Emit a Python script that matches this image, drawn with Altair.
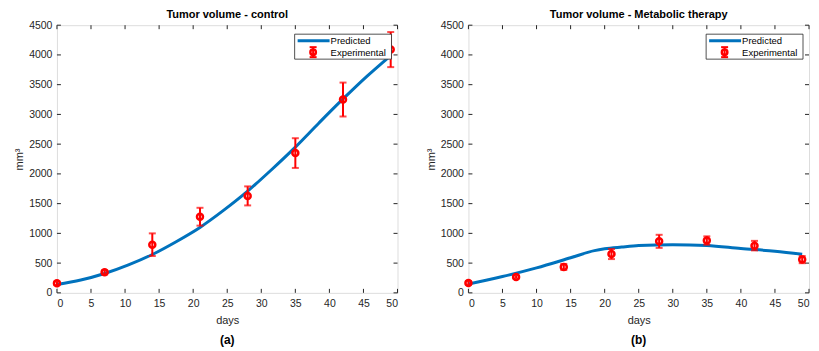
import altair as alt
import pandas as pd

# ---- data ----
days_exp = [0, 7, 14, 21, 28, 35, 42, 49]
control_mean = [160, 345, 810, 1280, 1630, 2350, 3250, 4090]
control_err = [30, 35, 190, 150, 160, 250, 285, 295]
therapy_mean = [167, 268, 436, 653, 866, 880, 794, 559]
therapy_err = [30, 25, 50, 85, 110, 70, 80, 60]

control_pred_days = [0, 3.5, 7, 10.5, 14, 17.5, 21, 24.5, 28, 31.5, 35, 38.5, 42, 45.5, 49]
control_pred = [140, 215, 325, 470, 645, 860, 1100, 1390, 1710, 2070, 2450, 2860, 3260, 3640, 3990]

therapy_pred_days = [0, 5, 10, 15, 18.5, 20, 22.5, 25, 30, 35, 40, 45, 49]
therapy_pred = [150, 275, 420, 590, 710, 740, 770, 795, 810, 795, 745, 700, 650]

x_ticks = [0, 5, 10, 15, 20, 25, 30, 35, 40, 45, 50]
y_ticks = [0, 500, 1000, 1500, 2000, 2500, 3000, 3500, 4000, 4500]

W, H = 341, 268
FONT = "Liberation Sans"
AX = "#262626"
BLUE = "#0072BD"
RED = "#FF0000"


def panel(title, caption, pdays, pvals, means, errs):
    exp = pd.DataFrame({
        "day": days_exp,
        "mean": means,
        "lo": [m - e for m, e in zip(means, errs)],
        "hi": [m + e for m, e in zip(means, errs)],
    })
    pred = pd.DataFrame({"day": pdays, "vol": pvals})
    xt = pd.DataFrame({"v": x_ticks})
    yt = pd.DataFrame({"v": y_ticks})
    one = pd.DataFrame({"a": [0]})

    xs = alt.Scale(domain=[0, 50], nice=False)
    ys = alt.Scale(domain=[0, 4500], nice=False)

    common = dict(grid=False, domain=False, tickSize=0, labelOverlap=False, format="d",
                  labelFontSize=10.5, titleFontSize=11, titleFontWeight="normal",
                  labelColor=AX, titleColor=AX, labelFont=FONT, titleFont=FONT)
    xaxis = alt.Axis(values=x_ticks, title="days", labelPadding=6, titlePadding=5, **common)
    yaxis = alt.Axis(values=y_ticks, title="mm³", labelPadding=5, titlePadding=4, **common)

    def X(f):
        return alt.X(f, scale=xs, axis=xaxis)

    def Y(f):
        return alt.Y(f, scale=ys, axis=yaxis)

    line = alt.Chart(pred).mark_line(color=BLUE, strokeWidth=3, interpolate="monotone").encode(
        x=X("day:Q"), y=Y("vol:Q"))
    bars = alt.Chart(exp).mark_rule(color=RED, strokeWidth=2).encode(
        x=X("day:Q"), y=Y("lo:Q"), y2="hi:Q")
    cap_lo = alt.Chart(exp).mark_tick(color=RED, orient="horizontal", size=7, thickness=2).encode(
        x=X("day:Q"), y=Y("lo:Q"))
    cap_hi = alt.Chart(exp).mark_tick(color=RED, orient="horizontal", size=7, thickness=2).encode(
        x=X("day:Q"), y=Y("hi:Q"))
    pts = alt.Chart(exp).mark_point(color=RED, filled=False, strokeWidth=2.5, size=36, opacity=1).encode(
        x=X("day:Q"), y=Y("mean:Q"))

    # inward ticks on all four sides
    tb = alt.Chart(xt).mark_rule(color=AX, strokeWidth=1).encode(
        x=X("v:Q"), y=alt.value(H - 4), y2=alt.value(H))
    tt = alt.Chart(xt).mark_rule(color=AX, strokeWidth=1).encode(
        x=X("v:Q"), y=alt.value(0), y2=alt.value(4))
    tl = alt.Chart(yt).mark_rule(color=AX, strokeWidth=1).encode(
        y=Y("v:Q"), x=alt.value(0), x2=alt.value(4))
    tr = alt.Chart(yt).mark_rule(color=AX, strokeWidth=1).encode(
        y=Y("v:Q"), x=alt.value(W - 4), x2=alt.value(W))

    # legend
    lbox = alt.Chart(one).mark_rect(fill="white", stroke=AX, strokeWidth=0.8).encode(
        x=alt.value(238), x2=alt.value(335), y=alt.value(9), y2=alt.value(34))
    lline = alt.Chart(one).mark_rule(color=BLUE, strokeWidth=3).encode(
        x=alt.value(241), x2=alt.value(273), y=alt.value(15.5))
    lbar = alt.Chart(one).mark_rule(color=RED, strokeWidth=2).encode(
        x=alt.value(256.5), y=alt.value(22), y2=alt.value(32))
    lcap1 = alt.Chart(one).mark_rule(color=RED, strokeWidth=2).encode(
        x=alt.value(253), x2=alt.value(260), y=alt.value(22))
    lcap2 = alt.Chart(one).mark_rule(color=RED, strokeWidth=2).encode(
        x=alt.value(253), x2=alt.value(260), y=alt.value(32))
    lpt = alt.Chart(one).mark_point(color=RED, filled=False, strokeWidth=2.5, size=30, opacity=1).encode(
        x=alt.value(256.5), y=alt.value(27))
    ltxt1 = alt.Chart(one).mark_text(align="left", baseline="middle", fontSize=9.5, font=FONT, color="black").encode(
        x=alt.value(274), y=alt.value(16), text=alt.value("Predicted"))
    ltxt2 = alt.Chart(one).mark_text(align="left", baseline="middle", fontSize=9.5, font=FONT, color="black").encode(
        x=alt.value(274), y=alt.value(27.5), text=alt.value("Experimental"))

    cap = alt.Chart(one).mark_text(align="center", baseline="middle", fontSize=12, fontWeight="bold",
                                   font=FONT, color="black").encode(
        x=alt.value(W / 2), y=alt.value(H + 47), text=alt.value(caption))

    return alt.layer(
        line, tb, tt, tl, tr, bars, cap_lo, cap_hi, pts,
        lbox, lline, lbar, lcap1, lcap2, lpt, ltxt1, ltxt2, cap,
    ).properties(
        width=W, height=H,
        title=alt.TitleParams(title, fontSize=11, fontWeight="bold", font=FONT, color="black", offset=0),
    )


left = panel("Tumor volume - control", "(a)", control_pred_days, control_pred, control_mean, control_err)
right = panel("Tumor volume - Metabolic therapy", "(b)", therapy_pred_days, therapy_pred, therapy_mean, therapy_err)

chart = alt.hconcat(left, right, spacing=25).properties(
    padding={"left": 5, "top": 0, "right": 0, "bottom": 0}
).configure_view(stroke=AX, strokeWidth=1).configure_axis(
    labelOverlap=False
).configure(background="white")

chart.save("out.html", embed_options={"renderer": "svg", "actions": False})
